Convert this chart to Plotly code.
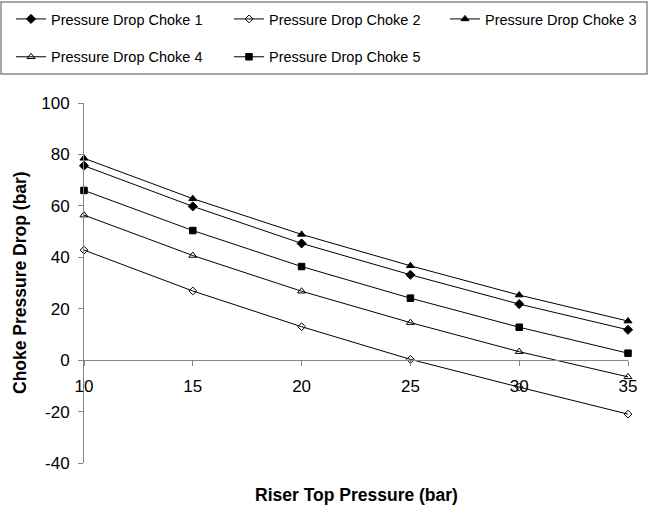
import plotly.graph_objects as go

riser_top_pressure = [10, 15, 20, 25, 30, 35]
choke1 = [75.6, 59.8, 45.4, 33.2, 21.8, 11.8]
choke2 = [42.8, 26.9, 13.0, 0.3, -10.5, -21.0]
choke3 = [78.5, 62.8, 48.9, 36.7, 25.3, 15.2]
choke4 = [56.4, 40.7, 26.8, 14.6, 3.3, -6.5]
choke5 = [66.0, 50.4, 36.4, 24.1, 12.8, 2.7]

series_names = ["Pressure Drop Choke 1", "Pressure Drop Choke 2", "Pressure Drop Choke 3",
                "Pressure Drop Choke 4", "Pressure Drop Choke 5"]
series_values = [choke1, choke2, choke3, choke4, choke5]
symbols = ["diamond", "diamond-open", "triangle-up", "triangle-up-open", "square"]
sizes = [7, 6, 7, 7, 6.5]
legend_ids = ["legend", "legend2", "legend3", "legend", "legend2"]

y_tick_vals = [-40, -20, 0, 20, 40, 60, 80, 100]
y_tick_text = ["-40", "-20", "0", "20", "40", "60", "80", "100"]
x_tick_vals = [10, 15, 20, 25, 30, 35]
x_tick_text = ["10", "15", "20", "25", "30", "35"]

y_range = [-40, 100]
x_range = [10, 35]

W, H = 660, 510
ML, MR, MT, MB = 84, 32, 103, 47
font_family = "Liberation Sans, Arial, sans-serif"

fig = go.Figure()
for i, (name, vals, sym, sz, lg) in enumerate(zip(series_names, series_values, symbols, sizes, legend_ids)):
    fig.add_trace(go.Scatter(
        x=riser_top_pressure, y=vals, name=name, mode="lines+markers",
        line=dict(color="black", width=1),
        marker=dict(symbol=sym, size=sz, color="black", line=dict(color="black", width=1)),
        cliponaxis=False, legend=lg, legendgroup=name,
    ))

zero_pos = (0 - y_range[0]) / (y_range[1] - y_range[0])


def legend_cfg(left_px):
    return dict(
        orientation="v", xref="container", yref="container",
        x=left_px / W, y=1 - 3 / H, xanchor="left", yanchor="top",
        borderwidth=0, bgcolor="rgba(0,0,0,0)",
        traceorder="grouped", tracegroupgap=16,
        font=dict(family=font_family, size=14.5, color="black"),
        itemwidth=30,
    )


fig.update_layout(
    width=W, height=H,
    margin=dict(l=ML, r=MR, t=MT, b=MB, autoexpand=False),
    plot_bgcolor="white", paper_bgcolor="white",
    font=dict(family=font_family, size=14, color="black"),
    showlegend=True,
    legend=legend_cfg(11),
    legend2=legend_cfg(229),
    legend3=legend_cfg(445),
    xaxis=dict(
        range=x_range, tickvals=x_tick_vals, ticktext=x_tick_text,
        anchor="free", position=zero_pos,
        showline=True, linecolor="#868686", linewidth=1,
        ticks="outside", ticklen=5, tickcolor="#868686",
        showgrid=False, zeroline=False,
        tickfont=dict(size=17), ticklabelstandoff=5,
        automargin=False,
    ),
    yaxis=dict(
        range=y_range, tickvals=y_tick_vals, ticktext=y_tick_text,
        showline=True, linecolor="#868686", linewidth=1,
        ticks="outside", ticklen=5, tickcolor="#868686",
        showgrid=False, zeroline=False,
        tickfont=dict(size=17), ticklabelstandoff=5, automargin=False,
    ),
)

pw, ph = W - ML - MR, H - MT - MB

# legend frame (spans all three legend columns)
fig.add_shape(
    type="rect", xref="paper", yref="paper",
    x0=(1 - ML) / pw, x1=(647 - ML) / pw,
    y0=(H - MB - 74) / ph, y1=(H - MB - 2) / ph,
    line=dict(color="#8a8a8a", width=1.5), fillcolor="rgba(0,0,0,0)", layer="above",
)

fig.add_annotation(
    text="<b>Choke Pressure Drop (bar)</b>", xref="paper", yref="paper",
    x=(20 - ML) / pw, y=0.5, xanchor="center", yanchor="middle", showarrow=False,
    textangle=-90, font=dict(size=17.5, family=font_family),
)

fig.add_annotation(
    text="<b>Riser Top Pressure (bar)</b>", xref="paper", yref="paper",
    x=0.5, y=(H - MB - 495) / ph, xanchor="center", yanchor="middle", showarrow=False,
    font=dict(size=17.5, family=font_family),
)

fig.write_html("out.html")
